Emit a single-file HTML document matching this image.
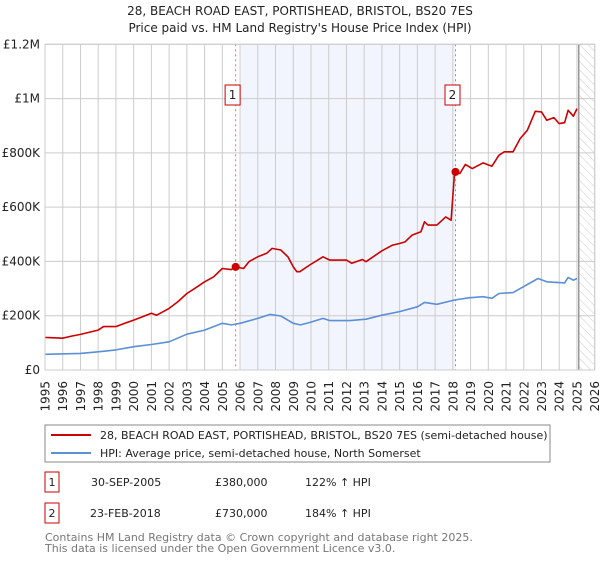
<!DOCTYPE html>
<html><head><meta charset="utf-8"><style>
body{margin:0;background:#fff;font-family:"DejaVu Sans","Liberation Sans",sans-serif;}
svg text{font-family:"DejaVu Sans","Liberation Sans",sans-serif;}
</style></head><body>
<svg id="c" width="600" height="560" xmlns="http://www.w3.org/2000/svg">
<defs><pattern id="hatch" width="6" height="6" patternUnits="userSpaceOnUse" patternTransform="rotate(-45)"><line x1="0" y1="0" x2="0" y2="6" stroke="#ccc" stroke-width="1"/></pattern></defs>
<text x="300" y="15" text-anchor="middle" font-size="12" fill="#222">28, BEACH ROAD EAST, PORTISHEAD, BRISTOL, BS20 7ES</text>
<text x="300" y="32" text-anchor="middle" font-size="12" fill="#222">Price paid vs. HM Land Registry's House Price Index (HPI)</text>
<g id="plot"></g>
<rect x="45" y="425" width="505" height="37" fill="#fff" stroke="#888"/>
<line x1="51" y1="435" x2="91" y2="435" stroke="#cc0000" stroke-width="2"/>
<text x="100" y="439" font-size="11" fill="#222">28, BEACH ROAD EAST, PORTISHEAD, BRISTOL, BS20 7ES (semi-detached house)</text>
<line x1="51" y1="453" x2="91" y2="453" stroke="#5b8fd6" stroke-width="2"/>
<text x="100" y="457" font-size="11" fill="#222">HPI: Average price, semi-detached house, North Somerset</text>
<rect x="45" y="472" width="14" height="20" fill="#fff" stroke="#cc0000"/>
<text x="52" y="486" text-anchor="middle" font-size="11" fill="#222">1</text>
<text x="91" y="486" font-size="11" fill="#222">30-SEP-2005</text>
<text x="215" y="486" font-size="11" fill="#222">£380,000</text>
<text x="305" y="486" font-size="11" fill="#222">122% ↑ HPI</text>
<rect x="45" y="503" width="14" height="20" fill="#fff" stroke="#cc0000"/>
<text x="52" y="517" text-anchor="middle" font-size="11" fill="#222">2</text>
<text x="90" y="517" font-size="11" fill="#222">23-FEB-2018</text>
<text x="215" y="517" font-size="11" fill="#222">£730,000</text>
<text x="305" y="517" font-size="11" fill="#222">184% ↑ HPI</text>
<text x="45" y="541" font-size="11" fill="#777">Contains HM Land Registry data © Crown copyright and database right 2025.</text>
<text x="45" y="552" font-size="11" fill="#777">This data is licensed under the Open Government Licence v3.0.</text>
</svg>
<script>
const redYears=[1995,1996,1996.5,1997,1998,1998.3,1999,1999.5,2000,2000.5,2001,2001.3,2002,2002.5,2003,2003.5,2004,2004.5,2005,2005.5,2005.75,2006.2,2006.5,2007,2007.5,2007.8,2008.3,2008.7,2009,2009.2,2009.37,2009.93,2010.68,2011.06,2012,2012.3,2012.9,2013.1,2014,2014.6,2015,2015.3,2015.7,2016.2,2016.4,2016.6,2017.1,2017.6,2017.9,2018.1,2018.4,2018.7,2019.1,2019.7,2020.2,2020.6,2020.9,2021.4,2021.8,2022.2,2022.65,2023.0,2023.3,2023.7,2024.0,2024.3,2024.5,2024.8,2025.0];
const redValues=[120,117,125,131,147,160,160,172,184,196,209,202,227,252,282,303,325,343,374,370,380,374,399,417,430,448,442,417,380,362,362,387,417,405,405,393,407,399,439,460,466,472,497,509,546,534,534,564,552,730,724,757,742,763,751,791,804,804,853,883,953,951,920,930,908,911,957,935,963];
const hpiYears=[1995,1997,1998,1999,2000,2001,2002,2003,2004,2005,2005.5,2006,2007,2007.7,2008.3,2009,2009.4,2009.93,2010.68,2011.06,2012.2,2013.1,2014,2015,2016,2016.4,2017.1,2018.1,2018.9,2019.7,2020.2,2020.6,2021.4,2022.8,2023.3,2024.3,2024.5,2024.8,2025.0];
const hpiValues=[58,61,67,74,86,94,104,132,147,172,166,172,190,205,199,172,166,175,190,182,182,187,202,215,233,249,242,258,266,270,264,282,285,337,325,321,341,331,337];
const yTicks=[0,200,400,600,800,1000,1200];
const yTickLabels=["£0","£200K","£400K","£600K","£800K","£1M","£1.2M"];
const xTicks=[1995,1996,1997,1998,1999,2000,2001,2002,2003,2004,2005,2006,2007,2008,2009,2010,2011,2012,2013,2014,2015,2016,2017,2018,2019,2020,2021,2022,2023,2024,2025,2026];
const saleYears=[2005.75,2018.15];
const saleValues=[380,730];
const saleLabels=["1","2"];

const L=45,R=594.7,T=44.3,B=370;
const X=y=>L+(y-1995)/(2026-1995)*(R-L);
const Y=v=>B-v/1200*(B-T);
const NS="http://www.w3.org/2000/svg";
const g=document.getElementById('plot');
function el(t,a){const e=document.createElementNS(NS,t);for(const k in a)e.setAttribute(k,a[k]);g.appendChild(e);return e;}
let e;
e=el('rect',{x:X(2006.05),y:T,width:X(saleYears[1])-X(2006.05),height:B-T,fill:'#f2f5fd'});


e=el('rect',{x:X(2025.1),y:T,width:R-X(2025.1),height:B-T,fill:'url(#hatch)'});


yTicks.forEach((v,i)=>{
 e=el('line',{x1:L,x2:R,y1:Y(v),y2:Y(v),stroke:'#ccc'});
 
 
 e=el('text',{x:40,y:Y(v)+4,'text-anchor':'end','font-size':12,fill:'#222'});e.textContent=yTickLabels[i];
 
 
});
xTicks.forEach(yr=>{
 e=el('line',{x1:X(yr),x2:X(yr),y1:T,y2:B,stroke:'#ccc'});
 
 
 e=el('text',{x:0,y:0,'text-anchor':'end','font-size':12,fill:'#222',transform:`translate(${X(yr)+4.5},381) rotate(-90)`});e.textContent=yr;
 
 
});
e=el('line',{x1:X(2025.1),x2:X(2025.1),y1:T,y2:B,stroke:'#999','stroke-width':1.5});


saleYears.forEach((yr,i)=>{
 e=el('line',{x1:X(yr),x2:X(yr),y1:T,y2:B,stroke:'#e87070','stroke-dasharray':'2,3'});
 
 
 e=el('rect',{x:X(yr)-10.5,y:85,width:15,height:20,fill:'#fff',stroke:'#cc0000'});
 
 
 e=el('text',{x:X(yr)-3,y:99,'text-anchor':'middle','font-size':12,fill:'#222'});e.textContent=saleLabels[i];
 
 
});
function line(xs,vs,col,name){
 const d=xs.map((x,i)=>(i?'L':'M')+X(x).toFixed(1)+','+Y(vs[i]).toFixed(1)).join('');
 const p=el('path',{d:d,fill:'none',stroke:col,'stroke-width':1.6,'stroke-linejoin':'round'});
 
 
}
line(hpiYears,hpiValues,'#5b8fd6','hpi-line');
line(redYears,redValues,'#cc0000','property-price-line');
saleYears.forEach((yr,i)=>{
 e=el('circle',{cx:X(yr),cy:Y(saleValues[i]),r:4,fill:'#cc0000'});
 
 
});
e=el('rect',{x:L,y:T,width:R-L,height:B-T,fill:'none',stroke:'#ccc'});


</script>
</body></html>
